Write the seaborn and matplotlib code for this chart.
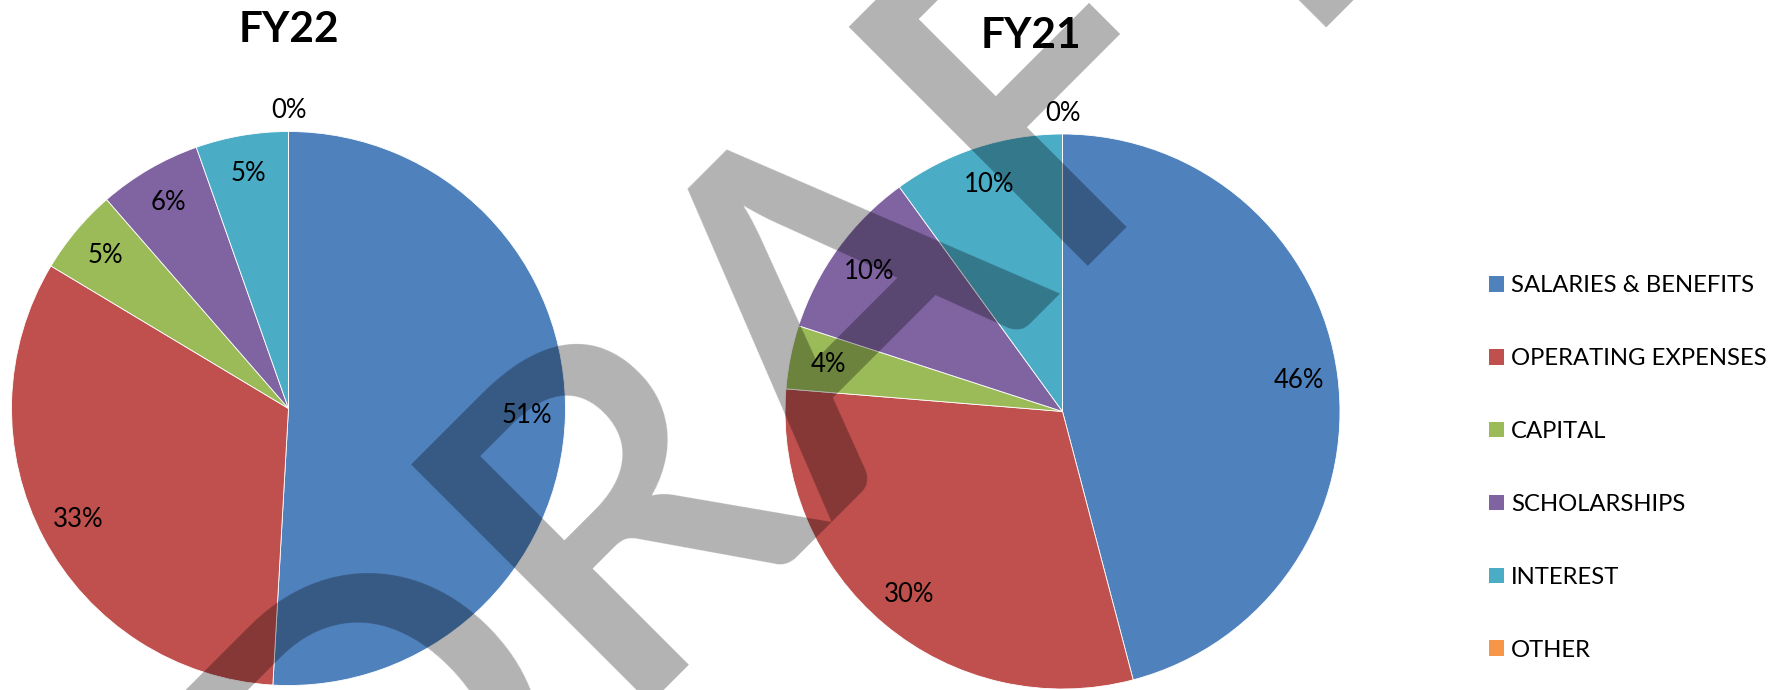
import matplotlib
matplotlib.use("Agg")
import matplotlib.pyplot as plt
from matplotlib.patches import Patch
from matplotlib.font_manager import FontProperties, findfont, get_font
import numpy as np
import seaborn as sns

try:
    from matplotlib.ft2font import LoadFlags
    NO_HINT = LoadFlags.NO_HINTING
except ImportError:  # older matplotlib
    from matplotlib.ft2font import LOAD_NO_HINTING as NO_HINT

# ---------------- data ----------------
categories = ["SALARIES & BENEFITS", "OPERATING EXPENSES", "CAPITAL",
              "SCHOLARSHIPS", "INTEREST", "OTHER"]
fy22_values = [50.9, 32.7, 5.0, 6.0, 5.4, 0.0]
fy21_values = [45.9, 30.4, 3.7, 10.0, 10.0, 0.0]
chart_titles = ["FY22", "FY21"]
colors = ["#4F81BD", "#C0504D", "#9BBB59", "#8064A2", "#4BACC6", "#F79646"]
watermark = "DRAFT"

# ---------------- style ----------------
sns.set_theme(style="white")
plt.rcParams['font.family'] = ['Lato', 'DejaVu Sans']

W, H = 1779, 690
fig = plt.figure(figsize=(W / 100, H / 100), dpi=100)
fig.patch.set_facecolor("white")

# pie geometry in pixels (centre x, centre y from top, radius)
pie_geom = [(288.5, 408.5, 277.0), (1062.5, 411.5, 277.5)]
title_pos = [(288.5, 42.0), (1031.0, 48.5)]


def px_axes(cx, cy, r):
    return fig.add_axes([(cx - r) / W, (H - cy - r) / H, 2 * r / W, 2 * r / H])


for values, title, (cx, cy, r), (tx, ty) in zip([fy22_values, fy21_values],
                                                chart_titles, pie_geom, title_pos):
    ax = px_axes(cx, cy, r)
    wedges, texts, autotexts = ax.pie(
        values, colors=colors, startangle=90, counterclock=False,
        autopct='%.0f%%', pctdistance=0.86,
        wedgeprops=dict(linewidth=0.6, edgecolor='white'),
        textprops=dict(fontsize=18.5, color='black'))
    for w, t, v in zip(wedges, autotexts, values):
        w.set_clip_on(False)
        if v == 0:
            ang = np.deg2rad((w.theta1 + w.theta2) / 2)
            t.set_position((1.075 * np.cos(ang), 1.075 * np.sin(ang)))
    ax.set_xlim(-1, 1)
    ax.set_ylim(-1, 1)
    ax.set_aspect('equal')
    ax.axis('off')
    fig.text(tx / W, 1 - ty / H, title, ha='center', va='baseline',
             fontsize=30.5, fontweight='bold', color='black')

# ---------------- legend ----------------
handles = [Patch(facecolor=c, edgecolor='none', label=lab)
           for c, lab in zip(colors, categories)]
fs_leg = 17.2
fig.legend(handles=handles, loc='center left',
           bbox_to_anchor=(1489 / W, 1 - 468 / H),
           frameon=False, fontsize=fs_leg, labelcolor='black',
           handlelength=0.63, handleheight=0.63, handletextpad=0.3,
           labelspacing=2.17, borderpad=0, borderaxespad=0)

# ---------------- watermark (rotated "DRAFT") ----------------
wm_prop = FontProperties(family='Lato', weight=600)
ft = get_font(findfont(wm_prop))
ft.set_size(1000, 72)  # 1000 px per em


def glyph(ch):
    return ft.load_char(ord(ch), flags=NO_HINT)


def adv(ch):
    return glyph(ch).linearHoriAdvance / 65536 / 1000


def lsb(ch):
    return glyph(ch).horiBearingX / 64 / 1000


cap = glyph('H').height / 64 / 1000
target_cap = 341.0           # px, cap height of the watermark
target_span = 612.0          # px, R stem to F stem along the baseline
span_em = adv('R') + adv('A') + lsb('F') - lsb('R')
S = 0.5 * (target_cap / cap + target_span / span_em)   # em in px
mid_s = 283.7                # along-baseline position of R/F stem midpoint
s_Rstem = mid_s - 0.5 * span_em * S
s_origin = s_Rstem - (adv('D') + lsb('R')) * S
base_sum = 1314.0            # baseline: x + y = const (image px)
ox = (base_sum + s_origin * np.sqrt(2)) / 2
oy = (base_sum - s_origin * np.sqrt(2)) / 2

fig.text(ox / W, 1 - oy / H, watermark, rotation=45, rotation_mode='anchor',
         ha='left', va='baseline', fontproperties=wm_prop,
         fontsize=S * 72 / 100, color='black', alpha=0.3, zorder=10)

fig.savefig("out.png", dpi=100, facecolor='white')
